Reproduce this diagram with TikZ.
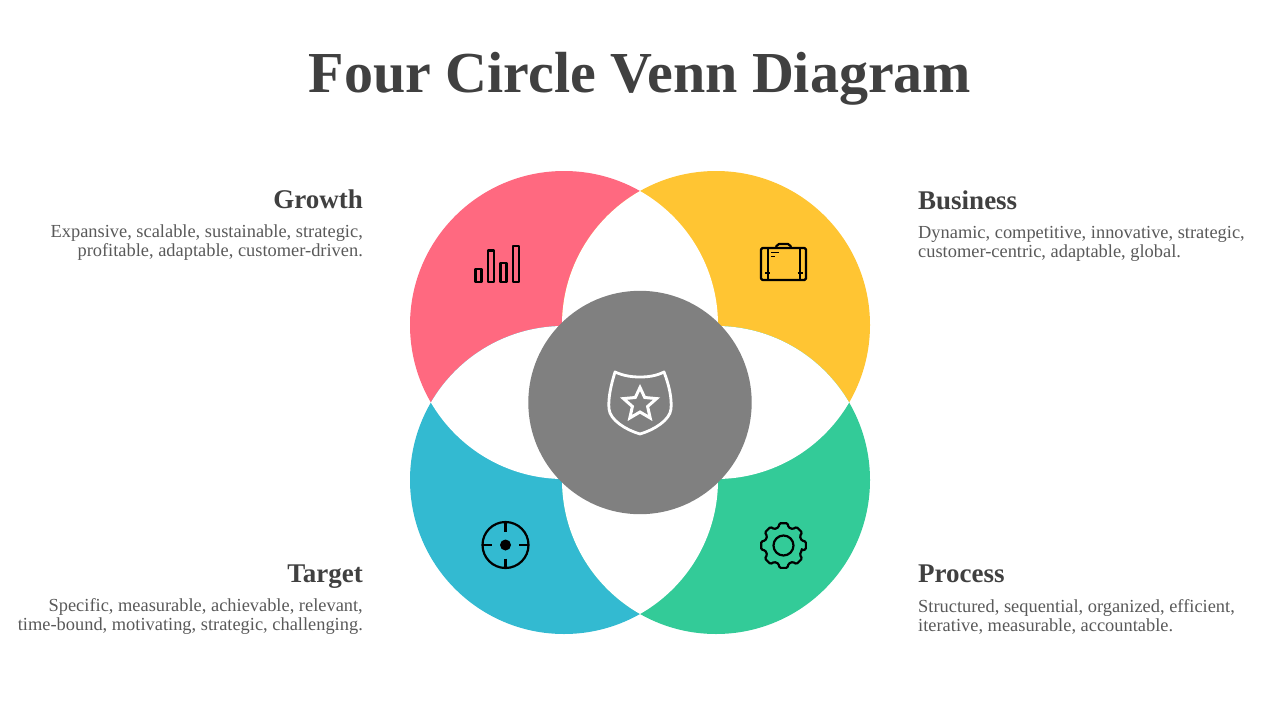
\documentclass[tikz,border=0pt]{standalone}
\usepackage{fontspec}
\setmainfont{Liberation Serif}
\definecolor{growthpink}{HTML}{FF6980}
\definecolor{businessyellow}{HTML}{FFC533}
\definecolor{targetblue}{HTML}{33BAD1}
\definecolor{processgreen}{HTML}{33CB98}
\definecolor{hubgray}{HTML}{808080}
\definecolor{headtext}{HTML}{404040}
\definecolor{bodytext}{HTML}{595959}
\tikzset{
	titletext/.style={anchor=base, inner sep=0pt, text=headtext, font=\fontsize{58}{60}\selectfont\bfseries},
	headleft/.style={anchor=base east, inner sep=0pt, text=headtext, font=\fontsize{27}{28}\selectfont\bfseries},
	headright/.style={anchor=base west, inner sep=0pt, text=headtext, font=\fontsize{27}{28}\selectfont\bfseries},
	bodyleft/.style={anchor=east, inner sep=0pt, align=right, text=bodytext, font=\fontsize{18.4}{19}\selectfont},
	bodyright/.style={anchor=west, inner sep=0pt, align=left, text=bodytext, font=\fontsize{18.4}{19}\selectfont},
	icon/.style={draw=black, line width=2.2pt, line join=round}
}
\begin{document}
\begin{tikzpicture}[x=1pt, y=-1pt]
	\useasboundingbox (0,0) rectangle (1280,720);

	\coordinate (growth) at (564,325);
	\coordinate (business) at (716,325);
	\coordinate (target) at (564,480);
	\coordinate (process) at (716,480);

	\fill[growthpink] (growth) circle (154pt);
	\fill[businessyellow] (business) circle (154pt);
	\fill[targetblue] (target) circle (154pt);
	\fill[processgreen] (process) circle (154pt);

	% white petals between neighbouring circles
	\foreach \first/\second in {growth/business, growth/target, business/process, target/process} {
		\begin{scope}
			\clip (\first) circle (154pt);
			\fill[white] (\second) circle (154pt);
		\end{scope}
	}

	\fill[hubgray] (640,402.5) circle (111.7pt);

	% bars
	\draw[icon] (475.5,269) rectangle (481.5,282);
	\draw[icon] (488,250.5) rectangle (494,282);
	\draw[icon] (500.5,263) rectangle (506.5,282);
	\draw[icon] (513,246) rectangle (519,282);

	% case
	\draw[icon, rounded corners=1.5pt] (761,248) rectangle (806,280);
	\draw[icon, rounded corners=2pt] (776,248) -- (777,244) -- (790,244) -- (791,248);
	\draw[icon, line width=2pt] (767.5,248) -- (767.5,280);
	\draw[icon, line width=2pt] (800,248) -- (800,280);
	\draw[icon, line width=1.8pt] (765,273) -- (770,273);
	\draw[icon, line width=1.8pt] (797.5,273) -- (802.5,273);
	\draw[icon, line width=1.8pt] (771,252.5) -- (779,252.5);
	\draw[icon, line width=1.8pt] (771,256.5) -- (774.5,256.5);

	% crosshair
	\draw[icon] (505.5,545) circle (23pt);
	\fill[black] (505.5,545) circle (5.5pt);
	\draw[icon] (505.5,522) -- (505.5,531.5);
	\draw[icon] (505.5,558.5) -- (505.5,568);
	\draw[icon] (482.5,545) -- (492,545);
	\draw[icon] (519,545) -- (528.5,545);

	% gear
	\begin{scope}[shift={(783.5,545.5)}]
		\draw[icon, rounded corners=1.2pt] (-15:19pt)
			\foreach \a in {0,45,...,315} {
				-- ({\a-15}:19pt) -- ({\a-10}:22.7pt) -- ({\a+10}:22.7pt) -- ({\a+15}:19pt) -- ({\a+22.5}:18.5pt)
			} -- cycle;
		\draw[icon] (0,0) circle (10pt);
	\end{scope}

	% shield
	\draw[white, line width=2.8pt, line join=round] (615,372) .. controls (624,376) and (632,377) .. (640,377)
		.. controls (648,377) and (656,376) .. (664,372)
		.. controls (669,385) and (672,398) .. (671,409)
		.. controls (670,420) and (654,430) .. (640,434)
		.. controls (626,430) and (610,420) .. (609,409)
		.. controls (608,398) and (611,385) .. (615,372) -- cycle;
	\draw[white, line width=3pt, line join=miter] (640,387.5) -- (644.7,397.5) -- (656.5,398.6) -- (647.6,406.5) -- (650.2,418)
		-- (640,412) -- (629.8,418) -- (632.4,406.5) -- (623.5,398.6) -- (635.3,397.5) -- cycle;

	\node[titletext] (title) at (640,92) {Four Circle Venn Diagram};

	\node[headleft] (growthhead) at (363,208) {Growth};
	\node[bodyleft] (growthbody) at (363,243) {Expansive, scalable, sustainable, strategic,\\profitable, adaptable, customer-driven.};
	\node[headright] (businesshead) at (918,209) {Business};
	\node[bodyright] (businessbody) at (918,244) {Dynamic, competitive, innovative, strategic,\\customer-centric, adaptable, global.};
	\node[headleft] (targethead) at (363,582) {Target};
	\node[bodyleft] (targetbody) at (363,617) {Specific, measurable, achievable, relevant,\\time-bound, motivating, strategic, challenging.};
	\node[headright] (processhead) at (918,582) {Process};
	\node[bodyright] (processbody) at (918,617) {Structured, sequential, organized, efficient,\\iterative, measurable, accountable.};
\end{tikzpicture}
\end{document}
